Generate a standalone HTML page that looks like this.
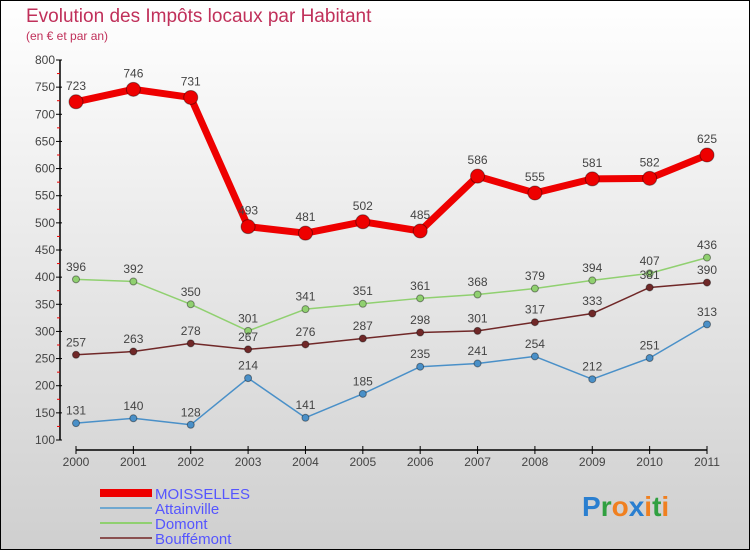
<!DOCTYPE html>
<html><head><meta charset="utf-8"><style>
body{margin:0;width:750px;height:550px;overflow:hidden;font-family:"Liberation Sans",sans-serif}
</style></head><body>
<svg id="c" width="750" height="550" xmlns="http://www.w3.org/2000/svg">
<defs><linearGradient id="bg" x1="0" y1="0" x2="0" y2="1"><stop offset="0" stop-color="#ffffff"/><stop offset="1" stop-color="#cfcfcf"/></linearGradient></defs>
<rect x="0.5" y="0.5" width="749" height="549" fill="url(#bg)" stroke="#000"/>
<text x="26" y="22" font-size="19" fill="#c0305a">Evolution des Impôts locaux par Habitant</text>
<text x="26" y="40" font-size="12" fill="#c0305a">(en € et par an)</text>
<g id="axes"></g><g id="series"></g>
<g font-size="15" fill="#5555ff">
<rect x="100" y="489" width="52" height="8" fill="#e00"/>
<text x="155" y="499">MOISSELLES</text>
<rect x="100" y="507" width="52" height="2" fill="#6fa8d0"/>
<text x="155" y="514">Attainville</text>
<rect x="100" y="522" width="52" height="2" fill="#90d070"/>
<text x="155" y="529">Domont</text>
<rect x="100" y="537" width="52" height="2" fill="#8a5050"/>
<text x="155" y="544">Bouffémont</text>
</g>
<text x="582" y="516" font-size="28" font-weight="bold"><tspan fill="#2a7fd0">P</tspan><tspan fill="#30a040">r</tspan><tspan fill="#f08020">o</tspan><tspan fill="#2a7fd0">x</tspan><tspan fill="#f08020">i</tspan><tspan fill="#30a040">t</tspan><tspan fill="#f08020">i</tspan></text>
</svg>
<script>
const years=[2000,2001,2002,2003,2004,2005,2006,2007,2008,2009,2010,2011];
const yTicks=[100,150,200,250,300,350,400,450,500,550,600,650,700,750,800];
const moisselles=[723,746,731,493,481,502,485,586,555,581,582,625];
const attainville=[131,140,128,214,141,185,235,241,254,212,251,313];
const domont=[396,392,350,301,341,351,361,368,379,394,407,436];
const bouffemont=[257,263,278,267,276,287,298,301,317,333,381,390];
const NS="http://www.w3.org/2000/svg";
const X=i=>76+i*(707-76)/11;
const Y=v=>440-(v-100)*(380/700);
function mk(t,a,p){const e=document.createElementNS(NS,t);for(const k in a)e.setAttribute(k,a[k]);p.appendChild(e);return e;}
const ax=document.getElementById('axes');
const yl=mk('line',{x1:60,y1:Y(800),x2:60,y2:Y(100),stroke:'#000','stroke-width':1.5},ax);


yTicks.forEach(v=>{
 const t=mk('line',{x1:56,y1:Y(v),x2:62,y2:Y(v),stroke:'#000'},ax);
 
 
 if(v<800){const m=mk('line',{x1:57,y1:Y(v+25),x2:60,y2:Y(v+25),stroke:'#e00'},ax);
 
 }
 const l=mk('text',{x:55,y:Y(v)+4,'font-size':12,fill:'#444','text-anchor':'end'},ax);l.textContent=v;
 
 
});
const xl=mk('line',{x1:X(0),y1:450,x2:X(11),y2:450,stroke:'#000','stroke-width':1.5},ax);


years.forEach((y,i)=>{
 const t=mk('line',{x1:X(i),y1:446,x2:X(i),y2:454,stroke:'#000'},ax);
 
 
 const l=mk('text',{x:X(i),y:466,'font-size':12,fill:'#444','text-anchor':'middle'},ax);l.textContent=y;
 
 
});
const sg=document.getElementById('series');
function series(name,data,color,w,r){
 const g=mk('g',{},sg);
 
 
 const pl=mk('polyline',{points:data.map((v,i)=>X(i)+','+Y(v)).join(' '),fill:'none',stroke:color,'stroke-width':w,'stroke-linejoin':'round'},g);
 
 
 data.forEach((v,i)=>{
  const c=mk('circle',{cx:X(i),cy:Y(v),r:r,fill:color,stroke:'rgba(0,0,0,0.4)','stroke-width':1},g);
  
  
  const t=mk('text',{x:X(i),y:Y(v)-(r+5),'font-size':12,fill:'#444','text-anchor':'middle'},g);t.textContent=v;
  
  
 });
}
series('attainville',attainville,'#4a90c8',1.5,3.5);
series('domont',domont,'#90d070',1.5,3.5);
series('bouffemont',bouffemont,'#702828',1.5,3.5);
series('moisselles',moisselles,'#ee0000',7,7);
</script>
</body></html>
